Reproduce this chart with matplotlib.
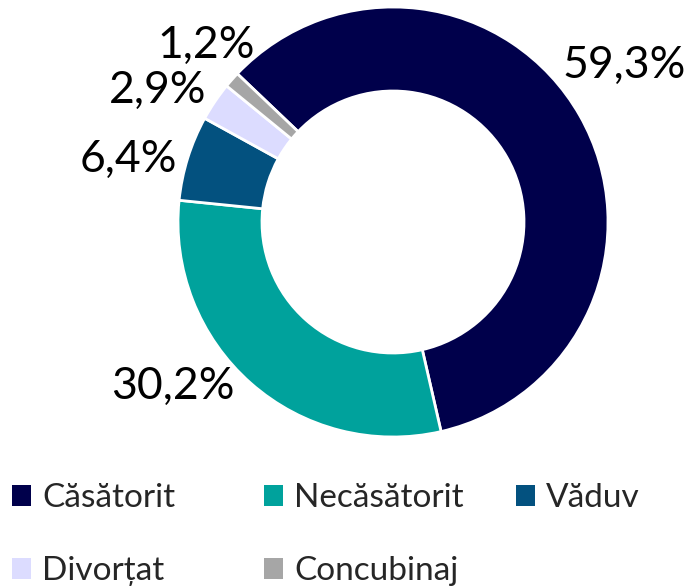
import matplotlib
matplotlib.use("Agg")
import matplotlib.pyplot as plt
import matplotlib.patches as mpatches

plt.rcParams["font.family"] = ["Lato", "DejaVu Sans"]

categories = ["Căsătorit", "Necăsătorit", "Văduv", "Divorțat", "Concubinaj"]
shares = [59.3, 30.2, 6.4, 2.9, 1.2]
colors = ["#00004b", "#00a29c", "#03517f", "#dcdcff", "#a6a6a6"]

# label anchor points, in pie-radius units from the center
label_pos = [(1.074, 0.726), (-1.023, -0.767), (-1.233, 0.293),
             (-1.093, 0.614), (-0.870, 0.823)]

W, H = 686, 588
cx, cy, r_out, r_in = 393, 222, 215, 131

fig = plt.figure(figsize=(W / 100, H / 100), dpi=100)
ax = fig.add_axes([(cx - r_out) / W, (H - cy - r_out) / H, 2 * r_out / W, 2 * r_out / H])

wedges, _ = ax.pie(
    shares,
    colors=colors,
    startangle=136.4,
    counterclock=False,
    radius=1.0,
    wedgeprops=dict(width=(r_out - r_in) / r_out, edgecolor="white", linewidth=2),
)
ax.set_xlim(-1, 1)
ax.set_ylim(-1, 1)
ax.set_aspect("equal")
ax.set_axis_off()

for val, (lx, ly) in zip(shares, label_pos):
    ax.text(lx, ly, f"{val:.1f}%".replace(".", ","), ha="center", va="center",
            fontsize=32, color="black")

# legend laid out in rows of three, one small legend per entry
col_x = [12, 264, 516]
row_y = [498, 571]
for i, (cat, col) in enumerate(zip(categories, colors)):
    x = col_x[i % 3]
    y = row_y[i // 3]
    fig.legend(
        handles=[mpatches.Patch(facecolor=col, edgecolor="none")],
        labels=[cat],
        loc="center left",
        bbox_to_anchor=(x / W, 1 - y / H),
        frameon=False,
        borderpad=0,
        borderaxespad=0,
        fontsize=24,
        handlelength=0.58,
        handleheight=0.58,
        handletextpad=0.33,
        labelcolor="#262626",
    )

fig.savefig("out.png", dpi=100)
